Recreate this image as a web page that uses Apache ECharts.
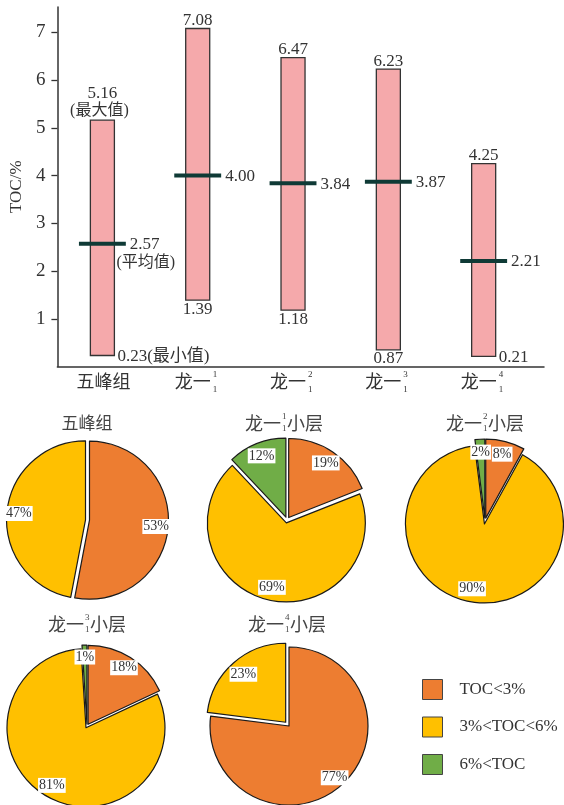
<!DOCTYPE html>
<html><head><meta charset="utf-8">
<script src="https://cdn.jsdelivr.net/npm/echarts@6/dist/echarts.min.js"></script>
<style>html,body{margin:0;padding:0;background:#fff}#c{width:564px;height:805px}</style>
</head><body><div id="c"></div>
<script>
// ---------- data: range chart ----------
const categories = ['五峰组', '龙一', '龙一', '龙一', '龙一'];
const catSup = ['', '1', '2', '3', '4'];
const catSub = ['', '1', '1', '1', '1'];
const tocMax = [5.16, 7.08, 6.47, 6.23, 4.25];
const tocMean = [2.57, 4.00, 3.84, 3.87, 2.21];
const tocMin = [0.23, 1.39, 1.18, 0.35, 0.21];
const maxText = ['5.16', '7.08', '6.47', '6.23', '4.25'];
const meanText = ['2.57', '4.00', '3.84', '3.87', '2.21'];
const minText = ['0.23', '1.39', '1.18', '0.87', '0.21'];
const maxNote = ['(最大值)', '', '', '', ''];
const meanNote = ['(平均值)', '', '', '', ''];
const minNote = ['(最小值)', '', '', '', ''];
const yTicks = [1, 2, 3, 4, 5, 6, 7];

// ---------- data: pies ----------
const pieNames = ['TOC<3%', '3%<TOC<6%', '6%<TOC'];
const pieTitleMain = ['五峰组', '龙一', '龙一', '龙一', '龙一'];
const pieTitleSup = ['', '1', '2', '3', '4'];
const pieTitleSub = ['', '1', '1', '1', '1'];
const pieTitleTail = ['', '小层', '小层', '小层', '小层'];
const pieWufeng = [53, 47];
const pieLong1 = [19, 69, 12];
const pieLong2 = [8, 90, 2];
const pieLong3 = [18, 81, 1];
const pieLong4 = [77, 23];

// ---------- styles ----------
const SERIF = '"Liberation Serif","Noto Sans CJK SC",serif';
const CJK = '"Noto Sans CJK SC",sans-serif';
const TXT = '#333';
const sliceColors = ['#ED7D31', '#FFC000', '#70AD47'];
const minSide = ['right', 'below', 'below', 'below', 'right'];

function renderRange(params, api) {
  const i = params.dataIndex;
  const xv = api.value(0);
  const top = api.coord([xv, api.value(3)]);
  const bot = api.coord([xv, api.value(1)]);
  const mid = api.coord([xv, api.value(2)]);
  const step = api.size([1, 0])[0];
  const hw = step * 0.126, lw = step * 0.246;
  const cx = top[0];
  const ch = [];
  ch.push({type: 'rect', shape: {x: cx - hw, y: top[1], width: 2 * hw, height: bot[1] - top[1]},
    style: {fill: '#F5A9AB', stroke: '#333', lineWidth: 1.3}});
  ch.push({type: 'line', shape: {x1: cx - lw, y1: mid[1], x2: cx + lw, y2: mid[1]},
    style: {stroke: '#0f3a36', lineWidth: 4}});
  const t = (text, x, y, align, fs, fam) => ({type: 'text', x: x, y: y,
    style: {text: text, fill: TXT, fontSize: fs || 17, fontFamily: fam || SERIF, align: align, verticalAlign: 'middle'}});
  if (maxNote[i]) {
    ch.push(t(maxNote[i], cx - 3, top[1] - 9, 'center', 16));
    ch.push(t(maxText[i], cx, top[1] - 27, 'center'));
  } else {
    ch.push(t(maxText[i], cx, top[1] - 8, 'center'));
  }
  ch.push(t(meanText[i], cx + lw + 4, mid[1] + 1, 'left'));
  if (meanNote[i]) ch.push(t(meanNote[i], cx + hw + 2, mid[1] + 19, 'left', 16));
  if (minSide[i] === 'right') {
    ch.push(t(minText[i] + minNote[i], cx + hw + 3, bot[1] + 1, 'left', 17));
  } else {
    ch.push(t(minText[i], cx, bot[1] + 9, 'center'));
  }
  const base = api.coord([xv, 0]);
  if (catSup[i]) {
    ch.push(t(categories[i], cx - 5, base[1] + 15, 'center', 18, CJK));
    ch.push(t(catSup[i], cx + 15, base[1] + 8.5, 'left', 9));
    ch.push(t(catSub[i], cx + 15, base[1] + 23, 'left', 9));
  } else {
    ch.push(t(categories[i], cx + 1, base[1] + 15, 'center', 18, CJK));
  }
  return {type: 'group', children: ch};
}

const rangeData = categories.map((c, i) => [i, tocMin[i], tocMean[i], tocMax[i]]);

// pie layout
const pieCfg = [
  {vals: pieWufeng, center: [87.5, 520], offset: 2, sel: [true, true]},
  {vals: pieLong1, center: [287, 520], offset: 3, sel: [true, true, true]},
  {vals: pieLong2, center: [485, 521], offset: 3, sel: [true, true, true]},
  {vals: pieLong3, center: [87, 726], offset: 2, sel: [true, true, true]},
  {vals: pieLong4, center: [289, 726], offset: 5, sel: [false, true]}
];
const pieSeries = pieCfg.map(cfg => ({
  type: 'pie',
  z: 2,
  center: cfg.center,
  radius: 79,
  startAngle: 90,
  clockwise: true,
  selectedMode: 'multiple',
  selectedOffset: cfg.offset,
  avoidLabelOverlap: false,
  emphasis: {scale: false},
  itemStyle: {borderColor: '#1a1a1a', borderWidth: 1.2},
  label: {show: false},
  labelLine: {show: false},
  data: cfg.vals.map((v, j) => ({name: pieNames[j], value: v, selected: cfg.sel[j],
    itemStyle: {color: sliceColors[j]}}))
}));
// transparent rings that only carry the percentage labels near the rim
const pieLabelRings = pieCfg.map(cfg => ({
  type: 'pie',
  z: 5,
  center: cfg.center,
  radius: [53, 79],
  startAngle: 90,
  clockwise: true,
  silent: true,
  avoidLabelOverlap: false,
  itemStyle: {color: 'rgba(0,0,0,0)', borderWidth: 0},
  label: {show: true, position: 'inside', formatter: '{c}%', color: TXT, fontSize: 14,
    fontFamily: SERIF, backgroundColor: '#fff', padding: [1, 1, 0, 1]},
  labelLine: {show: false},
  data: cfg.vals.map((v, j) => ({name: pieNames[j], value: v}))
}));

// pie titles
const titlePos = [[87, 423], [245, 423], [446, 423], [48, 624], [248, 624]];
const graphics = [];
pieTitleMain.forEach((m, i) => {
  const [x, y] = titlePos[i];
  const col = '#444';
  if (!pieTitleSup[i]) {
    graphics.push({type: 'text', x: x, y: y, style: {text: m, fill: col, fontSize: 17, fontFamily: CJK, align: 'center', verticalAlign: 'middle'}});
  } else {
    graphics.push({type: 'text', x: x, y: y, style: {text: m, fill: col, fontSize: 18, fontFamily: CJK, align: 'left', verticalAlign: 'middle'}});
    graphics.push({type: 'text', x: x + 37, y: y - 6, style: {text: pieTitleSup[i], fill: col, fontSize: 9, fontFamily: SERIF, align: 'left', verticalAlign: 'middle'}});
    graphics.push({type: 'text', x: x + 37, y: y + 5.5, style: {text: pieTitleSub[i], fill: col, fontSize: 9, fontFamily: SERIF, align: 'left', verticalAlign: 'middle'}});
    graphics.push({type: 'text', x: x + 42, y: y, style: {text: pieTitleTail[i], fill: col, fontSize: 18, fontFamily: CJK, align: 'left', verticalAlign: 'middle'}});
  }
});

const chart = echarts.init(document.getElementById('c'), null, {renderer: 'canvas'});
chart.setOption({
  backgroundColor: '#fff',
  animation: false,
  textStyle: {fontFamily: SERIF},
  grid: {left: 57, right: 20, top: 7, bottom: 438.5},
  xAxis: {
    type: 'value', min: -0.472, max: 4.633,
    axisLine: {show: true, onZero: false, lineStyle: {color: '#333', width: 1.5}},
    axisTick: {show: false}, axisLabel: {show: false}, splitLine: {show: false}
  },
  yAxis: {
    type: 'value', min: 0, max: 7.53,
    name: 'TOC/%', nameLocation: 'middle', nameGap: 31,
    nameTextStyle: {fontSize: 17, color: TXT, fontFamily: SERIF},
    axisLine: {show: true, onZero: false, lineStyle: {color: '#333', width: 1.5}},
    axisTick: {show: true, length: 6, customValues: yTicks, lineStyle: {color: '#333', width: 1.3}},
    axisLabel: {customValues: yTicks, fontSize: 19, color: TXT, fontFamily: SERIF, margin: 12},
    splitLine: {show: false}
  },
  legend: {
    orient: 'vertical', left: 422, top: 679, padding: 0, itemWidth: 20, itemHeight: 20, itemGap: 16.5,
    icon: 'rect', selectedMode: false,
    data: pieNames,
    itemStyle: {borderColor: '#444', borderWidth: 1},
    textStyle: {fontSize: 17, color: TXT, fontFamily: SERIF, padding: [0, 0, 0, 12]}
  },
  graphic: graphics,
  series: [{
    type: 'custom',
    renderItem: renderRange,
    data: rangeData,
    clip: false,
    silent: true
  }].concat(pieSeries, pieLabelRings)
});
</script></body></html>
